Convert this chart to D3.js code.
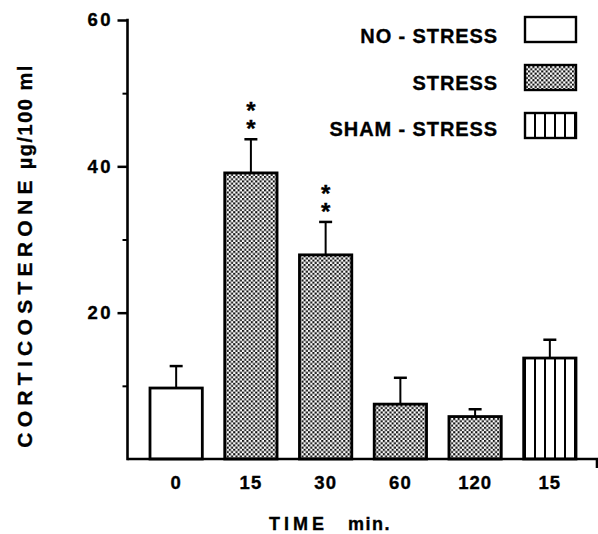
<!DOCTYPE html>
<html>
<head>
<meta charset="utf-8">
<script src="https://cdn.jsdelivr.net/npm/d3@7"></script>
<style>
  body { margin: 0; background: #fff; }
  text { font-family: "Liberation Sans", Arial, sans-serif; font-weight: bold; fill: #000; stroke: #000; stroke-width: 0.35px; }
</style>
</head>
<body>
<svg id="chart" width="598" height="534"></svg>
<script>
// data
const timeLabels = ["0", "15", "30", "60", "120", "15"];
const groups     = ["none", "stress", "stress", "stress", "stress", "sham"];
const means      = [9.7, 39.1, 27.9, 7.5, 5.8, 13.8];
const errors     = [3.0, 4.6, 4.5, 3.6, 1.0, 2.5];
const stars      = ["", "**", "**", "", "", ""];
const legendLabels = ["NO - STRESS", "STRESS", "SHAM - STRESS"];
const legendKeys   = ["none", "stress", "sham"];
const majorTicks = [20, 40, 60];
const minorTicks = [10, 30, 50];

const svg = d3.select("#chart");
const axisX = 127.5, rightEnd = 597;

const defs = svg.append("defs");
// stippled fill
const dots = defs.append("pattern").attr("id", "dots")
  .attr("patternUnits", "userSpaceOnUse").attr("width", 4.4).attr("height", 4.4);
dots.append("rect").attr("width", 4.4).attr("height", 4.4).attr("fill", "#fff");
dots.append("rect").attr("x", 0).attr("y", 0).attr("width", 2.1).attr("height", 2.1).attr("fill", "#111");
dots.append("rect").attr("x", 2.2).attr("y", 2.2).attr("width", 2.1).attr("height", 2.1).attr("fill", "#111");
// vertical stripes
const stripes = defs.append("pattern").attr("id", "stripes")
  .attr("patternUnits", "userSpaceOnUse").attr("width", 10).attr("height", 10);
stripes.append("rect").attr("width", 10).attr("height", 10).attr("fill", "#fff");
stripes.append("rect").attr("x", 4).attr("width", 2).attr("height", 10).attr("fill", "#000");

const fills = { none: "#fff", stress: "url(#dots)", sham: "url(#stripes)" };

const y = d3.scaleLinear().domain([0, 60]).range([459, 20]);
const x = d3.scaleBand().domain(d3.range(means.length)).range([150, 576])
  .paddingInner(0.3).paddingOuter(0);

// bars
svg.selectAll(".bar").data(means).enter().append("rect")
  .attr("class", "bar")
  .attr("x", (d, i) => x(i))
  .attr("y", d => y(d))
  .attr("width", x.bandwidth())
  .attr("height", d => y(0) - y(d))
  .attr("fill", (d, i) => fills[groups[i]])
  .attr("stroke", "#000")
  .attr("stroke-width", 2.8);

// error bars
const err = svg.selectAll(".err").data(means).enter().append("g").attr("class", "err");
err.append("line")
  .attr("x1", (d, i) => x(i) + x.bandwidth() / 2)
  .attr("x2", (d, i) => x(i) + x.bandwidth() / 2)
  .attr("y1", d => y(d))
  .attr("y2", (d, i) => y(d + errors[i]))
  .attr("stroke", "#000").attr("stroke-width", 2);
err.append("line")
  .attr("x1", (d, i) => x(i) + x.bandwidth() / 2 - 6.5)
  .attr("x2", (d, i) => x(i) + x.bandwidth() / 2 + 6.5)
  .attr("y1", (d, i) => y(d + errors[i]))
  .attr("y2", (d, i) => y(d + errors[i]))
  .attr("stroke", "#000").attr("stroke-width", 2.5);

// significance stars, stacked
svg.selectAll(".star").data(means).enter().append("text")
  .attr("class", "star")
  .attr("text-anchor", "middle")
  .style("font-size", "24px")
  .each(function (d, i) {
    if (!stars[i]) return;
    const cx = x(i) + x.bandwidth() / 2;
    const top = y(d + errors[i]);
    d3.select(this).append("tspan").attr("x", cx).attr("y", top - 20).text("*");
    d3.select(this).append("tspan").attr("x", cx).attr("y", top - 2).text("*");
  });

// y axis
const yAxis = svg.append("g").attr("transform", `translate(${axisX},0)`)
  .call(d3.axisLeft(y).tickValues(majorTicks).tickSize(10).tickSizeOuter(0).tickPadding(7));
yAxis.select(".domain").remove();
yAxis.selectAll(".tick line").attr("stroke-width", 2.5);
yAxis.selectAll("text").style("font-size", "18.5px").style("letter-spacing", "2.5px")
  .attr("font-family", null).attr("dx", "2.5");
const yMinor = svg.append("g").attr("transform", `translate(${axisX},0)`)
  .call(d3.axisLeft(y).tickValues(minorTicks).tickSize(5).tickFormat(""));
yMinor.select(".domain").remove();
yMinor.selectAll(".tick line").attr("stroke-width", 2);
svg.append("line").attr("x1", axisX).attr("x2", axisX)
  .attr("y1", y(60) - 1.2).attr("y2", y(0) + 1.2)
  .attr("stroke", "#000").attr("stroke-width", 2.6);

// x axis
const xAxis = svg.append("g").attr("transform", `translate(0,${y(0)})`)
  .call(d3.axisBottom(x).tickSize(0).tickPadding(17).tickFormat(i => timeLabels[i]));
xAxis.select(".domain").remove();
xAxis.selectAll("text").style("font-size", "18.5px").style("letter-spacing", "1px")
  .attr("font-family", null);
svg.append("path")
  .attr("d", `M${axisX},${y(0)}H${rightEnd}V${y(0) + 9}`)
  .attr("fill", "none").attr("stroke", "#000").attr("stroke-width", 2.6);

// axis titles
svg.append("text")
  .attr("x", 330).attr("y", 530)
  .attr("text-anchor", "middle")
  .style("font-size", "18px")
  .html('<tspan style="letter-spacing:4px">TIME</tspan><tspan dx="20" style="letter-spacing:1.5px">min.</tspan>');

svg.append("text")
  .attr("transform", "translate(32,256) rotate(-90)")
  .attr("text-anchor", "middle")
  .style("font-size", "21px")
  .html('<tspan style="letter-spacing:5.3px">CORTICOSTERONE</tspan><tspan dx="6" style="font-size:20px;letter-spacing:1.5px">µg/100 ml</tspan>');

// legend
const legendBoxTop = [17, 65, 113];
const legendTextBase = [43, 89.5, 136];
const leg = svg.selectAll(".leg").data(legendLabels).enter().append("g").attr("class", "leg");
leg.append("rect")
  .attr("x", 525).attr("y", (d, i) => legendBoxTop[i]).attr("width", 51).attr("height", 25)
  .attr("fill", (d, i) => fills[legendKeys[i]])
  .attr("stroke", "#000").attr("stroke-width", 2.4);
leg.append("text")
  .attr("x", 498).attr("y", (d, i) => legendTextBase[i])
  .attr("text-anchor", "end")
  .style("font-size", "20px")
  .style("letter-spacing", "0.9px")
  .text(d => d);
</script>
</body>
</html>
